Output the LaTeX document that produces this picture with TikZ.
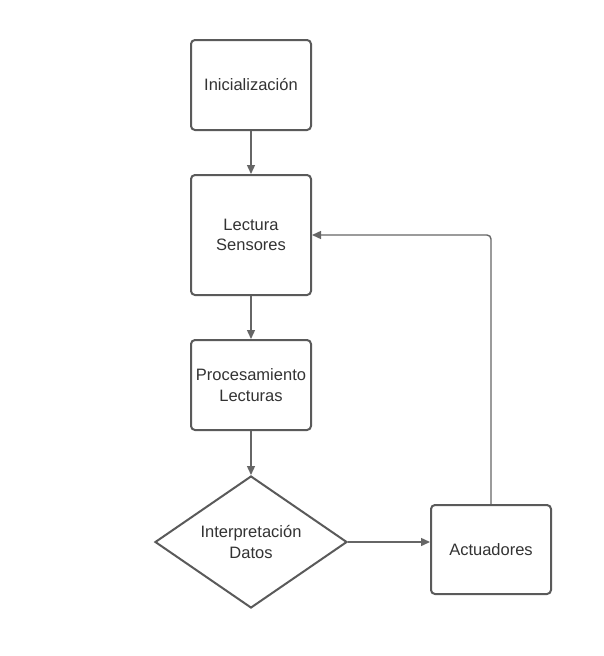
\documentclass[tikz,border=0pt]{standalone}
\usepackage{fontspec}
\setmainfont{Liberation Sans}
\usetikzlibrary{shapes.geometric,arrows.meta}
\definecolor{bord}{HTML}{5A5A5A}
\definecolor{txt}{HTML}{333333}
\definecolor{conn}{HTML}{666666}
\tikzset{
  procbox/.style={draw=bord, line width=2pt, rounded corners=4pt, fill=white,
    minimum width=120pt, align=center, text=txt, font=\fontsize{16.5}{20.5}\selectfont},
  decbox/.style={draw=bord, line width=2pt, diamond, fill=white, aspect=1.45,
    minimum width=192pt, minimum height=132pt, inner sep=0pt, align=center, text=txt,
    font=\fontsize{16.5}{20.5}\selectfont},
  conn/.style={draw=conn, line width=1.4pt, -{Triangle[length=9pt,width=8pt]}},
}
\begin{document}
\begin{tikzpicture}[x=1pt,y=-1pt]
\useasboundingbox (0,0) rectangle (603,656);
\node[procbox, minimum height=90pt] (ini) at (251,85) {Inicialización};
\node[procbox, minimum height=120pt] (lec) at (251,235) {Lectura\\Sensores};
\node[procbox, minimum height=90pt] (pro) at (251,385) {Procesamiento\\Lecturas};
\node[decbox] (dat) at (251,542) {Interpretación\\Datos};
\node[procbox, minimum height=89pt] (act) at (491,549.5) {Actuadores};
\coordinate (corner) at (491,235);
\draw[conn] (ini) -- (lec);
\draw[conn] (lec) -- (pro);
\draw[conn] (pro) -- (dat);
\draw[conn] (dat.east) -- (act.west |- dat.east);
\draw[conn, rounded corners=4pt] (act.north) -- (corner) -- (lec.east);
\end{tikzpicture}
\end{document}
